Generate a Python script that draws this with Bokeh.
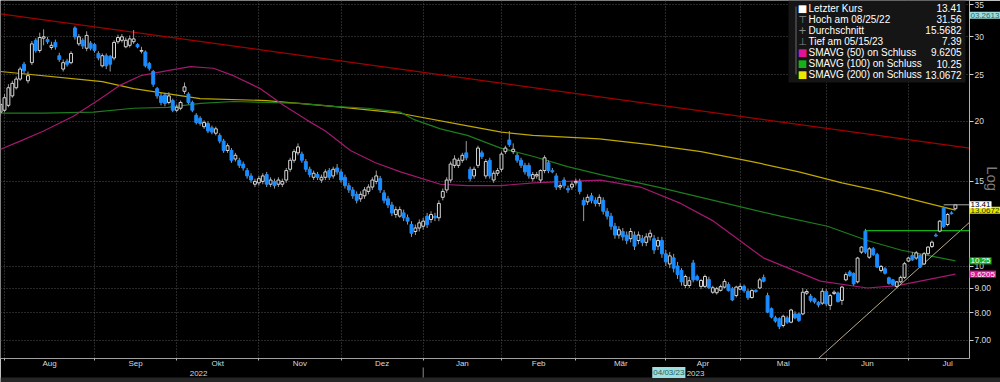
import numpy as np
from bokeh.plotting import figure
from bokeh.models import (FixedTicker, Range1d, LinearAxis, Label, BoxAnnotation, GridBox)
from bokeh.embed import file_html
from bokeh.resources import INLINE

# ---------------- data (trading-day index 0 = 29 Jul 2022) ----------------
OPEN = [20.9, 21.1, 21.6, 22.6, 23.5, 24.5, 26.3, 24.3, 26.5, 29.5,
        28.1, 29.8, 29.6, 28.5, 29.2, 27.4, 25.7, 26.7, 26.5, 31.3,
        29.0, 29.5, 28.4, 29.1, 28.9, 27.7, 26.1, 27.4, 27.3, 27.1,
        29.3, 29.5, 28.6, 28.8, 29.3, 28.9, 28.0, 27.9, 26.4, 25.4,
        23.4, 22.6, 22.7, 21.9, 22.1, 21.1, 21.3, 23.1, 22.8, 21.9,
        20.6, 20.3, 19.5, 19.8, 19.4, 18.9, 18.7, 18.2, 17.4, 17.4,
        16.7, 16.6, 16.3, 15.8, 15.4, 14.8, 14.9, 15.0, 15.5, 14.8,
        15.0, 14.8, 14.8, 15.1, 15.9, 16.6, 17.2, 17.1, 16.5, 15.9,
        15.3, 15.5, 15.1, 15.3, 15.8, 15.4, 16.0, 15.7, 15.3, 14.7,
        14.4, 14.1, 13.8, 14.0, 14.3, 14.6, 15.0, 15.2, 14.2, 13.8,
        13.4, 12.8, 12.7, 12.9, 12.6, 12.2, 11.8, 12.0, 12.1, 12.7,
        12.5, 12.7, 12.6, 13.9, 14.4, 15.1, 16.2, 16.2, 16.6, 17.2,
        15.9, 15.4, 16.2, 17.2, 15.4, 16.6, 15.1, 15.6, 15.9, 17.3,
        18.3, 17.3, 17.0, 16.6, 16.2, 16.2, 15.2, 15.4, 15.1, 15.8,
        16.4, 15.8, 15.4, 14.6, 15.1, 14.5, 14.6, 14.9, 15.0, 13.7,
        13.6, 14.0, 13.7, 13.5, 13.7, 13.0, 12.7, 12.1, 11.6, 11.8,
        11.6, 11.4, 11.6, 11.3, 11.4, 11.2, 11.5, 11.4, 11.0, 11.3,
        10.6, 10.1, 10.4, 10.0, 9.79, 9.11, 9.11, 10.15, 9.51, 9.07,
        9.07, 9.38, 8.82, 8.80, 8.90, 9.04, 9.15, 8.97, 8.68, 8.95,
        9.07, 8.86, 8.60, 8.90, 9.00, 9.47, 8.68, 8.15, 7.80, 7.77,
        7.52, 7.80, 7.64, 7.95, 7.95, 7.95, 8.78, 8.66, 8.55, 8.40,
        8.37, 8.85, 8.28, 8.77, 8.79, 8.48, 9.36, 9.72, 9.65, 9.27,
        10.69, 11.82, 10.43, 10.86, 10.56, 9.79, 9.87, 9.45, 9.36, 9.07,
        9.27, 9.47, 10.24, 10.52, 10.39, 10.52, 10.10, 10.61, 10.98, 11.60,
        11.82, 13.22, 12.20, 12.90, 13.16]
HIGH = [22.2, 22.8, 23.9, 24.3, 24.8, 26.0, 26.6, 25.4, 29.4, 29.8,
        30.6, 31.1, 30.0, 29.3, 29.6, 27.8, 26.9, 27.0, 28.0, 31.56,
        30.4, 29.8, 30.8, 29.4, 29.1, 28.0, 27.7, 27.7, 27.5, 29.5,
        30.3, 30.4, 29.9, 30.2, 31.0, 29.1, 28.6, 28.1, 26.6, 25.6,
        23.6, 22.9, 22.9, 23.0, 22.3, 21.7, 22.1, 24.1, 23.0, 22.1,
        20.8, 20.5, 20.1, 20.0, 19.6, 19.5, 18.9, 18.4, 18.0, 17.6,
        17.2, 16.8, 16.5, 16.0, 15.6, 15.2, 15.4, 15.6, 15.7, 15.3,
        15.2, 15.3, 15.2, 16.0, 16.8, 17.5, 18.0, 17.3, 16.7, 16.1,
        15.8, 15.7, 15.5, 15.9, 16.0, 16.1, 16.3, 15.9, 15.5, 14.9,
        14.6, 14.3, 14.3, 14.6, 14.8, 15.3, 15.8, 15.4, 14.4, 14.0,
        13.6, 13.3, 13.3, 13.1, 12.8, 12.4, 12.2, 12.5, 12.6, 12.9,
        13.0, 12.9, 13.7, 14.5, 15.3, 16.5, 17.0, 16.8, 17.2, 18.2,
        16.1, 16.1, 17.8, 17.4, 16.7, 16.8, 15.8, 16.0, 17.3, 17.8,
        19.1, 18.0, 17.2, 16.8, 16.4, 16.4, 15.7, 15.7, 15.9, 17.0,
        16.6, 16.0, 15.6, 14.9, 15.3, 14.7, 15.0, 15.2, 15.2, 13.9,
        14.1, 14.2, 13.9, 14.1, 13.9, 13.2, 12.9, 12.3, 12.1, 12.0,
        11.8, 12.0, 11.8, 11.8, 11.6, 11.7, 11.9, 11.6, 11.5, 11.5,
        10.8, 10.7, 10.6, 10.2, 9.9, 9.6, 9.5, 10.3, 9.6, 9.4,
        9.6, 9.5, 9.1, 9.05, 9.15, 9.4, 9.25, 9.05, 9.1, 9.2,
        9.15, 8.95, 8.95, 8.95, 9.45, 9.6, 8.8, 8.2, 7.88, 7.82,
        7.92, 7.88, 8.15, 8.05, 8.0, 9.0, 8.95, 8.75, 8.6, 8.45,
        9.0, 8.95, 8.75, 8.9, 8.85, 9.1, 9.7, 9.8, 9.7, 10.45,
        11.0, 11.95, 10.95, 10.95, 10.65, 10.05, 9.95, 9.5, 9.4, 9.3,
        9.55, 10.2, 10.45, 10.7, 10.75, 10.6, 10.7, 11.0, 11.3, 11.7,
        12.45, 13.3, 12.9, 13.0, 13.45]
LOW = [20.5, 20.9, 21.4, 22.4, 23.3, 24.3, 25.2, 24.0, 26.2, 27.8,
       27.8, 28.8, 29.0, 28.2, 28.2, 26.6, 25.4, 26.0, 26.3, 29.6,
       28.7, 28.3, 28.0, 28.1, 27.8, 26.8, 25.9, 25.7, 25.4, 26.8,
       29.0, 29.2, 28.4, 28.5, 29.0, 28.4, 27.7, 25.9, 25.5, 23.6,
       22.3, 21.6, 21.5, 21.7, 20.9, 20.9, 21.1, 22.8, 21.7, 20.9,
       19.7, 19.6, 19.3, 18.9, 18.8, 18.7, 18.0, 17.2, 17.2, 16.4,
       16.5, 16.0, 15.8, 15.2, 14.9, 14.6, 14.7, 14.8, 14.6, 14.6,
       14.5, 14.6, 14.6, 14.9, 15.7, 16.4, 17.0, 16.4, 15.7, 15.3,
       15.1, 15.1, 14.9, 15.1, 15.1, 15.2, 15.5, 14.9, 14.5, 14.2,
       13.8, 13.5, 13.6, 13.8, 14.1, 14.4, 14.8, 14.2, 13.5, 13.2,
       12.7, 12.6, 12.6, 12.4, 12.2, 11.5, 11.6, 11.8, 11.9, 12.0,
       12.3, 12.4, 12.4, 13.7, 14.2, 14.9, 16.0, 16.0, 16.4, 16.6,
       15.0, 15.2, 16.0, 16.7, 15.2, 15.2, 14.9, 15.4, 15.7, 17.1,
       17.7, 17.1, 16.4, 16.0, 15.5, 15.2, 15.0, 15.2, 14.9, 15.6,
       15.6, 15.6, 14.4, 14.4, 14.5, 14.2, 14.4, 14.7, 14.1, 12.4,
       13.4, 13.5, 13.3, 13.3, 12.8, 12.5, 11.9, 11.4, 11.4, 11.3,
       11.1, 11.2, 10.8, 11.1, 11.0, 11.0, 11.3, 10.6, 10.8, 10.4,
       10.0, 9.9, 9.7, 9.4, 9.1, 9.0, 9.0, 9.25, 9.3, 8.95,
       9.0, 8.95, 8.75, 8.72, 8.85, 8.98, 8.85, 8.45, 8.6, 8.9,
       8.8, 8.5, 8.55, 8.8, 8.95, 9.25, 7.98, 7.78, 7.62, 7.39,
       7.45, 7.58, 7.6, 7.75, 7.65, 7.9, 8.7, 8.4, 8.35, 8.2,
       8.3, 8.25, 8.1, 8.7, 8.4, 8.3, 9.3, 9.5, 9.1, 9.2,
       10.6, 10.6, 10.35, 10.5, 9.9, 9.7, 9.6, 9.15, 9.1, 9.0,
       9.2, 9.4, 10.2, 10.25, 10.3, 9.9, 10.05, 10.55, 10.9, 11.5,
       11.75, 12.0, 12.1, 12.8, 13.1]
CLOSE = [21.7, 22.4, 23.5, 24.0, 24.5, 25.7, 25.5, 24.9, 29.0, 28.1,
         29.9, 30.0, 29.3, 28.8, 28.6, 26.9, 26.5, 26.3, 27.7, 30.0,
         30.0, 28.7, 30.2, 28.4, 28.1, 27.1, 27.4, 26.1, 26.3, 29.2,
         29.9, 30.0, 29.5, 29.7, 29.7, 28.6, 28.1, 26.1, 25.8, 23.9,
         22.6, 21.9, 21.8, 22.6, 21.1, 21.4, 21.9, 23.6, 21.9, 21.1,
         19.9, 19.8, 19.9, 19.1, 19.0, 19.3, 18.2, 17.4, 17.8, 16.6,
         17.0, 16.2, 16.0, 15.4, 15.1, 15.0, 15.2, 15.4, 14.8, 15.1,
         14.7, 15.1, 15.0, 15.8, 16.6, 17.3, 17.7, 16.6, 15.9, 15.5,
         15.6, 15.3, 15.3, 15.7, 15.3, 15.9, 15.7, 15.1, 14.7, 14.4,
         14.0, 13.7, 14.1, 14.4, 14.6, 15.1, 15.4, 14.4, 13.7, 13.4,
         12.9, 13.1, 13.1, 12.6, 12.4, 11.7, 12.0, 12.3, 12.4, 12.2,
         12.8, 12.6, 13.5, 14.3, 15.1, 16.3, 16.7, 16.6, 17.0, 16.8,
         15.2, 15.9, 17.6, 16.9, 16.5, 15.4, 15.6, 15.8, 17.1, 17.6,
         17.9, 17.5, 16.6, 16.2, 15.7, 15.4, 15.5, 15.5, 15.8, 16.8,
         15.8, 15.7, 14.6, 14.7, 14.7, 14.4, 14.8, 15.0, 14.3, 13.4,
         13.9, 13.7, 13.5, 13.9, 13.0, 12.7, 12.1, 11.6, 11.9, 11.5,
         11.3, 11.8, 11.0, 11.6, 11.2, 11.5, 11.7, 10.8, 11.3, 10.6,
         10.2, 10.5, 9.9, 9.6, 9.27, 9.51, 9.32, 9.36, 9.36, 9.33,
         9.51, 9.01, 9.01, 8.97, 9.06, 9.29, 8.89, 8.50, 9.04, 9.07,
         8.89, 8.59, 8.89, 8.85, 9.36, 9.30, 8.02, 7.83, 7.68, 7.49,
         7.86, 7.64, 8.10, 7.80, 7.70, 8.82, 8.85, 8.48, 8.42, 8.30,
         8.86, 8.34, 8.68, 8.82, 8.43, 9.04, 9.60, 9.55, 9.18, 10.39,
         10.95, 10.69, 10.86, 10.56, 9.95, 9.98, 9.66, 9.20, 9.15, 9.27,
         9.47, 10.11, 10.39, 10.30, 10.65, 9.95, 10.61, 10.95, 11.21, 11.55,
         12.40, 12.09, 12.80, 12.85, 13.41]

# moving averages (index, value)
SMA200_X = [0, 26, 34, 51, 68, 85, 102, 119, 128, 136, 153, 166, 179, 192, 204, 215, 225, 234, 244]
SMA200_Y = [25.4, 24.2, 23.4, 22.3, 22.1, 21.5, 20.8, 19.6, 19.0, 18.7, 18.4, 17.9, 17.3, 16.5, 15.7, 14.9, 14.3, 13.7, 13.07]
SMA100_X = [0, 11, 23.7, 34, 42.7, 51.1, 59.5, 68.2, 76.6, 85.1, 93.8, 102.2, 105.5, 112.4, 119.3, 127.8,
            136.2, 144.9, 153.3, 168, 182.2, 199.3, 211.3, 221.5, 230, 244]
SMA100_Y = [20.8, 20.8, 20.9, 21.3, 21.4, 21.8, 22.0, 21.9, 21.8, 21.5, 21.3, 20.9, 20.2, 19.3, 18.7, 17.6,
            16.9, 16.1, 15.5, 14.6, 13.7, 12.7, 12.1, 11.3, 10.8, 10.25]
SMA50_X = [0, 5, 11, 18.6, 25.5, 30.6, 35.8, 42.7, 48.5, 54.4, 59.5, 66.4, 72.3, 78.4, 83, 89.4, 95.8,
           102.2, 112.4, 119.3, 127.8, 136.2, 144.9, 153.3, 163.5, 173.8, 182.2, 194.9, 209.5, 221.5, 229.2, 244]
SMA50_Y = [17.5, 18.2, 19.1, 20.5, 22.3, 23.8, 24.9, 25.5, 26.0, 25.8, 24.9, 23.4, 21.6, 20.1, 19.1, 17.4, 16.4,
           15.7, 14.8, 14.7, 14.7, 14.9, 15.0, 15.1, 14.6, 13.5, 12.4, 10.4, 9.3, 9.0, 9.1, 9.62]

TREND_RED_X = [0, 247.6]
TREND_RED_Y = [33.5, 17.6]
TREND_TAN_X = [205, 247.6]
TREND_TAN_Y = [6.0, 12.33]
RESIST_START = 221
RESIST_LEVEL = 11.85

MONTHS = ["Aug", "Sep", "Okt", "Nov", "Dez", "Jan", "Feb", "Mär", "Apr", "Mai", "Jun", "Jul"]
MONTH_START = [1, 24, 45, 66, 87, 108, 128, 147, 170, 189, 211, 232, 252]
YEARS = ["2022", "2023"]
YEAR_POS = [50.6, 177.6]
YEAR_BREAK = 108
YTICKS = [7, 8, 9, 10, 15, 20, 25, 30, 35]
YLABELS = ["7.00", "8.00", "9.00", "10", "15", "20", "25", "30", "35"]

LEGEND_NAMES = ["Letzter Kurs", "Hoch am 08/25/22", "Durchschnitt", "Tief am 05/15/23",
                "SMAVG (50)  on Schluss", "SMAVG (100)  on Schluss", "SMAVG (200)  on Schluss"]
LEGEND_VALUES = ["13.41", "31.56", "15.5682", "7.39", "9.6205", "10.25", "13.0672"]
CROSS_DATE = "04/03/23"
CROSS_VALUE = "03.2613"
CROSS_LEVEL = 33.26

# ---------------- geometry ----------------
CW, CH = 1000, 382          # canvas
FW, FH = 969, 358           # plot frame
RB, BB = CW - FW, CH - FH   # right / bottom border
X0, X1 = -0.02, 247.6
Y0, Y1 = 6.42, 35.7

FONT = "Liberation Sans"
GRID = "#505050"

p = figure(frame_width=FW, frame_height=FH, x_range=Range1d(X0, X1), y_range=Range1d(Y0, Y1),
           y_axis_type="log", y_axis_location="right", output_backend="svg", toolbar_location=None,
           min_border_left=0, min_border_top=0, min_border_right=RB, min_border_bottom=BB,
           background_fill_color="black", border_fill_color="black", outline_line_color=None)

# x axis: month labels centred, month boundaries as minor ticks
mids = [(MONTH_START[k] + MONTH_START[k + 1]) / 2 for k in range(len(MONTHS))]
p.xaxis.ticker = FixedTicker(ticks=mids, minor_ticks=MONTH_START[:-1])
p.xaxis.major_label_overrides = {m: n for m, n in zip(mids, MONTHS)}
p.xaxis.major_tick_line_color = None
p.xaxis.major_tick_out = 0
p.xaxis.minor_tick_line_color = "#b0b0b0"
p.xaxis.minor_tick_out = 2
p.xaxis.minor_tick_in = 0
p.xaxis.major_label_standoff = -2
p.xaxis.axis_line_color = "#a0a0a0"
p.xaxis.major_label_text_color = "#d8d8d8"
p.xaxis.major_label_text_font = FONT
p.xaxis.major_label_text_font_size = "8px"
p.xgrid.grid_line_color = None
p.xgrid.minor_grid_line_color = GRID
p.xgrid.minor_grid_line_dash = "1 2"

yr = LinearAxis(ticker=FixedTicker(ticks=YEAR_POS),
                major_label_overrides={y: t for y, t in zip(YEAR_POS, YEARS)})
yr.axis_line_color = None
yr.major_tick_line_color = None
yr.major_tick_out = 0
yr.minor_tick_line_color = None
yr.major_label_standoff = 0
yr.major_label_text_color = "#d8d8d8"
yr.major_label_text_font = FONT
yr.major_label_text_font_size = "8px"
p.add_layout(yr, "below")

# y axis (log, right)
p.yaxis.ticker = FixedTicker(ticks=YTICKS)
p.yaxis.major_label_overrides = {t: s for t, s in zip(YTICKS, YLABELS)}
p.yaxis.minor_tick_line_color = None
p.yaxis.major_tick_out = 4
p.yaxis.major_tick_in = 0
p.yaxis.major_tick_line_color = "#d0d0d0"
p.yaxis.axis_line_color = "#b0b0b0"
p.yaxis.major_label_standoff = 1
p.yaxis.major_label_text_color = "#d8d8d8"
p.yaxis.major_label_text_font = FONT
p.yaxis.major_label_text_font_size = "8.5px"
p.ygrid.grid_line_color = GRID
p.ygrid.grid_line_dash = "1 2"

# trend lines and moving averages
p.line(TREND_RED_X, TREND_RED_Y, line_color="#a00000", line_width=1.3)
p.line(SMA200_X, SMA200_Y, line_color="#bfa800", line_width=1.2)
p.line(SMA100_X, SMA100_Y, line_color="#1d7d1d", line_width=1.2)
p.line(SMA50_X, SMA50_Y, line_color="#a3196f", line_width=1.2)
p.line(TREND_TAN_X, TREND_TAN_Y, line_color="#b7a98a", line_width=1)
p.line([RESIST_START, X1], [RESIST_LEVEL, RESIST_LEVEL], line_color="#12b012", line_width=1.3)

# candles
o = np.array(OPEN); c = np.array(CLOSE); h = np.array(HIGH); l = np.array(LOW)
idx = np.arange(len(c))
up = c >= o
dn = ~up
p.segment(x0=idx, y0=h, x1=idx, y1=l, line_color="#9c9c9c", line_width=1)
p.vbar(x=idx[up], bottom=o[up], top=c[up], width=0.74, fill_color="black",
       line_color="#d8d8d8", line_width=1)
p.vbar(x=idx[dn], bottom=c[dn], top=o[dn], width=0.74, fill_color="#1a8cff",
       line_color="#1a8cff", line_width=1)

# last price line
p.line([idx[-1] - 3, X1], [c[-1], c[-1]], line_color="#a8a8a8", line_width=1)

# ---------------- overlay canvas for annotations outside the frame ----------------
dxp = (X1 - X0) / FW
dlp = (np.log(Y1) - np.log(Y0)) / FH
q = figure(frame_width=CW, frame_height=CH,
           x_range=Range1d(X0, X0 + dxp * CW),
           y_range=Range1d(float(np.exp(np.log(Y1) - dlp * CH)), Y1),
           y_axis_type="log", x_axis_location=None, y_axis_location=None,
           output_backend="svg", toolbar_location=None,
           min_border_left=0, min_border_top=0, min_border_right=0, min_border_bottom=0,
           background_fill_alpha=0, border_fill_alpha=0, outline_line_color=None)
q.grid.grid_line_color = None


def box(left, right, bottom, top, color, xu="screen"):
    q.add_layout(BoxAnnotation(left=left, right=right, bottom=bottom, top=top,
                               left_units=xu, right_units=xu,
                               bottom_units="screen", top_units="screen",
                               fill_color=color, fill_alpha=1, line_color=None))


# bottom strip
box(0, CW, 0, 5, "#262626")
# year separator
box(YEAR_BREAK - 0.5 * dxp, YEAR_BREAK + 0.5 * dxp, 5, 15, "#8a8a8a", xu="data")


def tag(txt, yv, bg, fg):
    q.add_layout(Label(x=FW, y=yv, x_units="screen", y_units="data", text=txt,
                       text_font=FONT, text_font_size="8px", text_color=fg,
                       text_baseline="middle", text_align="left",
                       background_fill_color=bg, padding=1))


tag(LEGEND_VALUES[6], float(LEGEND_VALUES[6]), "#e8e800", "#303000")
tag(LEGEND_VALUES[0], float(c[-1]), "#ffffff", "#000000")
tag(LEGEND_VALUES[5], float(LEGEND_VALUES[5]), "#18b018", "#ffffff")
tag(LEGEND_VALUES[4], float(LEGEND_VALUES[4]), "#e0149a", "#ffffff")
tag(CROSS_VALUE, CROSS_LEVEL, "#9edede", "#1f6b6b")

q.add_layout(Label(x=FW + 23, y=15.2, x_units="screen", y_units="data", text="Log",
                   text_font=FONT, text_font_size="15px", text_color="#7c7c7c",
                   angle=-np.pi / 2, text_align="center", text_baseline="middle"))

# cross-hair date box on the year row
q.add_layout(Label(x=175.0, y=10, x_units="data", y_units="screen", text=CROSS_DATE,
                   text_font=FONT, text_font_size="8px", text_color="#1f5f5f",
                   text_align="right", text_baseline="middle",
                   background_fill_color="#9edede", padding=1))

# legend panel (top right)
LX0, LX1 = 788, 965
box(LX0, LX1, CH - 82, CH, "#151515")
box(LX0 + 7, LX0 + 8, CH - 74, CH - 6, "#6a6a6a")
ICONS = ["■", "⊤", "+", "⊥", "■", "■", "■"]
ICON_COL = ["#ffffff", "#8a8a8a", "#8a8a8a", "#8a8a8a", "#e0149a", "#18b018", "#e8e800"]
for k, (nm, vv) in enumerate(zip(LEGEND_NAMES, LEGEND_VALUES)):
    yy = CH - 7.5 - 11.1 * k
    q.add_layout(Label(x=LX0 + 14, y=yy, x_units="screen", y_units="screen", text=ICONS[k],
                       text_font="DejaVu Sans", text_font_size="10px", text_color=ICON_COL[k],
                       text_align="center", text_baseline="middle"))
    q.add_layout(Label(x=LX0 + 20, y=yy, x_units="screen", y_units="screen", text=nm,
                       text_font=FONT, text_font_size="10px", text_color="#ffffff",
                       text_align="left", text_baseline="middle"))
    q.add_layout(Label(x=LX1 - 4, y=yy, x_units="screen", y_units="screen", text=vv,
                       text_font=FONT, text_font_size="10px", text_color="#ffffff",
                       text_align="right", text_baseline="middle"))

layout = GridBox(children=[(p, 0, 0), (q, 0, 0)])
open("out.html", "w").write(file_html(layout, INLINE))
